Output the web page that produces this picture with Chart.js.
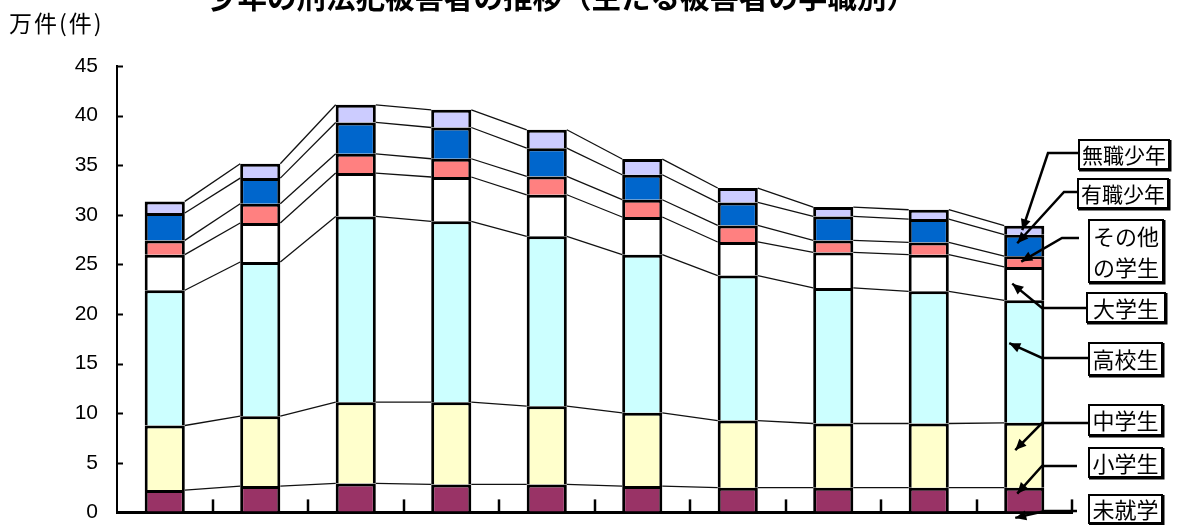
<!DOCTYPE html>
<html lang="ja">
<head>
<meta charset="utf-8">
<script src="https://cdn.jsdelivr.net/npm/chart.js@4/dist/chart.umd.min.js"></script>
<style>
  html, body { margin: 0; padding: 0; background: #fff; }
  #wrap { position: relative; width: 1183px; height: 525px; overflow: hidden; }
  canvas { display: block; }
</style>
</head>
<body>
<div id="wrap"><canvas id="chart" width="1183" height="525"></canvas></div>
<script>
// 少年の刑法犯被害者（万件）— 学職別の内訳
const categories = ['平成11年', '平成12年', '平成13年', '平成14年', '平成15年',
                    '平成16年', '平成17年', '平成18年', '平成19年', '平成20年'];
const preschool     = [0.10, 0.10, 0.10, 0.10, 0.10, 0.10, 0.10, 0.10, 0.10, 0.10];
const elementary    = [2.15, 2.55, 2.82, 2.72, 2.72, 2.55, 2.39, 2.39, 2.39, 2.39];
const juniorHigh    = [6.51, 7.05, 8.19, 8.29, 7.89, 7.39, 6.77, 6.47, 6.47, 6.54];
const highSchool    = [13.63, 15.54, 18.73, 18.23, 17.12, 15.94, 14.61, 13.67, 13.33, 12.35];
const university    = [3.59, 3.93, 4.37, 4.47, 4.19, 3.80, 3.39, 3.58, 3.69, 3.36];
const otherStudents = [1.44, 1.95, 1.94, 1.84, 1.85, 1.74, 1.67, 1.21, 1.24, 1.09];
const employed      = [2.76, 2.58, 3.16, 3.15, 2.85, 2.52, 2.32, 2.42, 2.35, 2.17];
const unemployed    = [1.17, 1.45, 1.78, 1.78, 1.85, 1.58, 1.45, 0.94, 0.94, 0.90];

const seriesNames = ['未就学', '小学生', '中学生', '高校生', '大学生', 'その他の学生', '有職少年', '無職少年'];
const seriesValues = [preschool, elementary, juniorHigh, highSchool, university, otherStudents, employed, unemployed];
const seriesColors = ['#5a1040', '#993366', '#ffffcc', '#ccffff', '#ffffff', '#ff8080', '#0066cc', '#ccccff'];

const yTickValues = [0, 5, 10, 15, 20, 25, 30, 35, 40, 45];
const unitLabel = '万件(件)';
const chartTitle = '少年の刑法犯被害者の推移（主たる被害者の学職別）';

// Callout boxes on the right, pointing into the last bar.
// box: [left, top, width, height]; lineY: leader row; elbow: x where leader bends;
// frac: where in the segment the arrow lands (0 = top, 1 = bottom); dx: offset from bar centre.
const callouts = [
  { series: 7, lines: ['無職少年'],      box: [1079, 140, 90, 29], lineY: 153, lineEnd: 1079, elbow: 1048, frac: 0.5,  dx: -2,  size: 21 },
  { series: 6, lines: ['有職少年'],      box: [1078, 179, 90, 29], lineY: 192, lineEnd: 1078, elbow: 1064, frac: 0.4,  dx: -7,  size: 21 },
  { series: 5, lines: ['その他', 'の学生'], box: [1089, 220, 74, 62], lineY: 238, lineEnd: 1079, elbow: 1062, frac: 0.5,  dx: -3,  size: 22 },
  { series: 4, lines: ['大学生'],        box: [1087, 293, 78, 29], lineY: 308, lineEnd: 1087, elbow: 1042, frac: 0.5,  dx: -12, size: 22 },
  { series: 3, lines: ['高校生'],        box: [1089, 343, 73, 32], lineY: 358, lineEnd: 1089, elbow: 1042, frac: 0.35, dx: -15, size: 22 },
  { series: 2, lines: ['中学生'],        box: [1089, 405, 73, 30], lineY: 423, lineEnd: 1089, elbow: 1042, frac: 0.42, dx: -9,  size: 22 },
  { series: 1, lines: ['小学生'],        box: [1089, 448, 73, 29], lineY: 466, lineEnd: 1077, elbow: 1042, frac: 0.25, dx: -7,  size: 22 },
  { series: 0, lines: ['未就学'],        box: [1089, 495, 73, 28], lineY: 511, lineEnd: 1077, elbow: 1045, frac: 6,    dx: -9,  size: 22 }
];

const CJK = '"Noto Sans CJK JP", "Noto Sans", sans-serif';

function arrowHead(ctx, fromX, fromY, toX, toY, len, half) {
  const ang = Math.atan2(toY - fromY, toX - fromX);
  const bx = toX - len * Math.cos(ang), by = toY - len * Math.sin(ang);
  ctx.beginPath();
  ctx.moveTo(toX, toY);
  ctx.lineTo(bx + half * Math.sin(ang), by - half * Math.cos(ang));
  ctx.lineTo(bx - half * Math.sin(ang), by + half * Math.cos(ang));
  ctx.closePath();
  ctx.fill();
}

const decorations = {
  id: 'decorations',
  beforeDraw(chart) {
    const ctx = chart.ctx;
    ctx.save();
    ctx.fillStyle = '#fff';
    ctx.fillRect(0, 0, chart.width, chart.height);
    ctx.restore();
  },
  afterDatasetsDraw(chart) {
    const ctx = chart.ctx;
    const n = categories.length;
    // series lines joining the tops of matching segments
    ctx.save();
    ctx.strokeStyle = '#111';
    ctx.lineWidth = 1.3;
    for (let d = 1; d < seriesValues.length; d++) {
      const meta = chart.getDatasetMeta(d);
      for (let i = 0; i < n - 1; i++) {
        const a = meta.data[i], b = meta.data[i + 1];
        ctx.beginPath();
        ctx.moveTo(a.x + a.width / 2, a.y);
        ctx.lineTo(b.x - b.width / 2, b.y);
        ctx.stroke();
      }
    }
    ctx.restore();
  },
  afterDraw(chart) {
    const ctx = chart.ctx;
    const xs = chart.scales.x, ys = chart.scales.y;
    const area = chart.chartArea;
    const n = categories.length;

    ctx.save();
    ctx.strokeStyle = '#000';
    // inward tick marks on the value axis
    ctx.lineWidth = 2;
    yTickValues.forEach(v => {
      const py = Math.round(ys.getPixelForValue(v)) + 0.5;
      ctx.beginPath();
      ctx.moveTo(area.left, py);
      ctx.lineTo(area.left + 6, py);
      ctx.stroke();
    });
    // upward tick marks between categories
    const catW = xs.getPixelForValue(1) - xs.getPixelForValue(0);
    ctx.lineWidth = 2.5;
    for (let i = 0; i < n; i++) {
      const px = Math.round(xs.getPixelForValue(i) + catW / 2);
      ctx.beginPath();
      ctx.moveTo(px, area.bottom);
      ctx.lineTo(px, area.bottom - 13);
      ctx.stroke();
    }

    // title (runs off the top edge) and unit label
    ctx.fillStyle = '#000';
    ctx.font = 'bold 29.5px ' + CJK;
    ctx.textAlign = 'center';
    ctx.textBaseline = 'alphabetic';
    ctx.fillText(chartTitle, 562, 8);
    ctx.font = '23px ' + CJK;
    ctx.textAlign = 'left';
    ctx.letterSpacing = '2px';
    ctx.fillText(unitLabel, 9, 32);
    ctx.letterSpacing = '0px';

    // callouts with leader arrows
    callouts.forEach(c => {
      const el = chart.getDatasetMeta(c.series).data[n - 1];
      const top = el.y, bot = el.base;
      const tipX = el.x + c.dx;
      const tipY = c.frac > 1 ? bot + c.frac : top + c.frac * (bot - top);
      ctx.strokeStyle = '#000';
      ctx.fillStyle = '#000';
      ctx.lineWidth = 2.5;
      ctx.lineCap = 'butt';
      ctx.beginPath();
      ctx.moveTo(c.lineEnd, c.lineY);
      ctx.lineTo(c.elbow, c.lineY);
      ctx.lineTo(tipX, tipY);
      ctx.stroke();
      arrowHead(ctx, c.elbow, c.lineY, tipX, tipY, 11, 5);

      const [bx, by, bw, bh] = c.box;
      ctx.fillStyle = '#fff';
      ctx.fillRect(bx, by, bw, bh);
      ctx.lineWidth = 2;
      ctx.strokeRect(bx, by, bw, bh);
      // heavier right/bottom edge
      ctx.lineWidth = 3;
      ctx.beginPath();
      ctx.moveTo(bx + bw + 1, by);
      ctx.lineTo(bx + bw + 1, by + bh + 1);
      ctx.lineTo(bx, by + bh + 1);
      ctx.stroke();

      ctx.fillStyle = '#000';
      ctx.font = c.size + 'px ' + CJK;
      ctx.textAlign = 'center';
      ctx.textBaseline = 'middle';
      const lh = bh / c.lines.length;
      c.lines.forEach((t, k) => {
        ctx.fillText(t, bx + bw / 2, by + lh * (k + 0.5) + 1);
      });
    });
    ctx.restore();
  }
};

const datasets = seriesNames.map((name, i) => ({
  label: name,
  data: seriesValues[i],
  backgroundColor: seriesColors[i],
  borderColor: '#000',
  borderWidth: 3,
  borderSkipped: 'start',
  barPercentage: 0.42,
  categoryPercentage: 1.0
}));

new Chart(document.getElementById('chart'), {
  type: 'bar',
  data: { labels: categories, datasets },
  options: {
    responsive: false,
    animation: false,
    devicePixelRatio: 1,
    layout: { padding: { left: 0, right: 111, top: 66, bottom: 12 } },
    plugins: {
      legend: { display: false },
      title: { display: false },
      tooltip: { enabled: false }
    },
    scales: {
      x: {
        stacked: true,
        offset: true,
        grid: { display: false, drawTicks: false },
        border: { display: true, color: '#000', width: 3 },
        ticks: { display: false },
        afterFit(scale) { scale.height = 0; }
      },
      y: {
        stacked: true,
        min: 0,
        max: 45,
        afterBuildTicks(scale) { scale.ticks = yTickValues.map(v => ({ value: v })); },
        // invisible tick marks reserve the gap between labels and the axis line
        grid: { display: true, drawOnChartArea: false, drawTicks: true, tickLength: 19, color: 'rgba(0,0,0,0)' },
        border: { display: true, color: '#000', width: 2 },
        ticks: {
          padding: 0,
          color: '#000',
          font: { family: '"Liberation Sans", Arial, sans-serif', size: 21 }
        },
        afterFit(scale) { scale.width = 117; }
      }
    }
  },
  plugins: [decorations]
});
</script>
</body>
</html>
